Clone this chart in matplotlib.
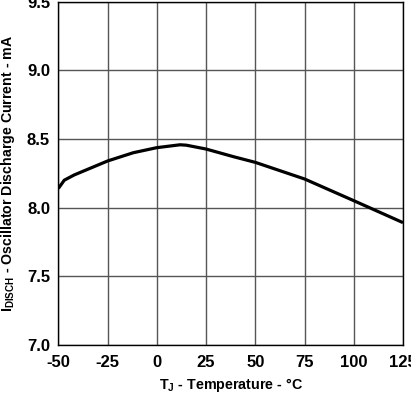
import matplotlib
matplotlib.use("Agg")
import matplotlib.pyplot as plt

temp = [-50, -47, -42, -35, -25, -12, 0, 11.8, 15, 25, 39, 50, 75, 100, 125]
current = [8.14, 8.20, 8.238, 8.28, 8.34, 8.40, 8.437, 8.458, 8.455, 8.427, 8.371, 8.33, 8.209, 8.051, 7.891]
xticks = [-50, -25, 0, 25, 50, 75, 100, 125]
yticks = [7.0, 7.5, 8.0, 8.5, 9.0, 9.5]

plt.rcParams['font.family'] = ['Liberation Sans', 'DejaVu Sans']
plt.rcParams['font.weight'] = 'bold'
plt.rcParams['mathtext.fontset'] = 'custom'
plt.rcParams['mathtext.rm'] = 'Liberation Sans:bold'
plt.rcParams['mathtext.it'] = 'Liberation Sans:bold'
plt.rcParams['mathtext.bf'] = 'Liberation Sans:bold'

fig = plt.figure(figsize=(4.11, 3.94), dpi=100)
ax = fig.add_axes([0.142, 0.1244, 0.8385, 0.8713])
ax.plot(temp, current, color='black', lw=2.3, solid_capstyle='butt', zorder=3)
ax.set_xlim(-50, 125)
ax.set_ylim(7.0, 9.5)
ax.set_xticks(xticks)
ax.set_yticks(yticks)
ax.set_xticklabels([str(t) for t in xticks])
ax.set_yticklabels([f"{v:.1f}" for v in yticks])
ax.grid(True, color='#555555', lw=1)
ax.tick_params(axis='x', length=0, labelsize=12, pad=7)
ax.tick_params(axis='y', length=0, labelsize=12, pad=6)
for s in ax.spines.values():
    s.set_color('black')
    s.set_linewidth(1)
ax.set_xlabel(r'T$_{\mathrm{J}}$ - Temperature - °C', fontsize=10.3, fontweight='bold', labelpad=4.5)
ax.set_ylabel(r'I$_{\mathrm{DISCH}}$ - Oscillator Discharge Current - mA', fontsize=10.2, fontweight='bold', labelpad=7)
fig.savefig('out.png', dpi=100)
